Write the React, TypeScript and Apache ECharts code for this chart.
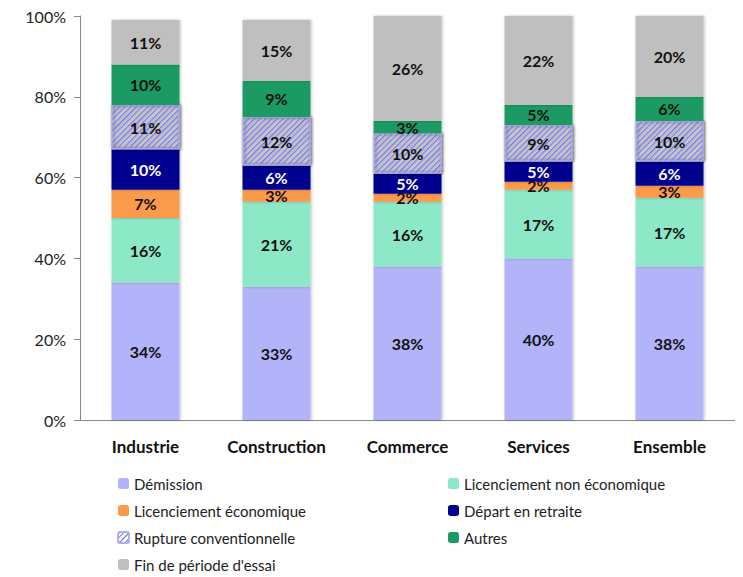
import React, { useEffect, useRef } from "react";
import * as echarts from "echarts";

const categories = ["Industrie", "Construction", "Commerce", "Services", "Ensemble"];
const demission = [34, 33, 38, 40, 38];
const licNonEco = [16, 21, 16, 17, 17];
const licEco = [7, 3, 2, 2, 3];
const retraite = [10, 6, 5, 5, 6];
const rupture = [11, 12, 10, 9, 10];
const autres = [10, 9, 3, 5, 6];
const finEssai = [11, 15, 26, 22, 20];

const FONT = "Lato";

const App: React.FC = () => {
  const chartRef = useRef<HTMLDivElement>(null);

  useEffect(() => {
    const chart = echarts.init(chartRef.current!, undefined, { renderer: "svg" });
    const mk = (name: string, data: number[], color: string, labelColor = "#111", extra: any = {}) => ({
      name,
      type: "bar",
      stack: "total",
      barWidth: 68,
      data,
      itemStyle: { color, shadowColor: "rgba(0,0,0,0.25)", shadowBlur: 3, shadowOffsetX: 1, ...extra },
      label: {
        show: true,
        formatter: "{c}%",
        color: labelColor,
        fontWeight: "bold",
        fontSize: 16,
        fontFamily: FONT,
      },
    });
    const legendBase = {
      orient: "vertical",
      height: 120,
      itemGap: 12,
      itemWidth: 11,
      itemHeight: 11,
      textStyle: { fontSize: 15, color: "#222", fontFamily: FONT },
    };
    chart.setOption({
      animation: false,
      textStyle: { fontFamily: FONT },
      grid: { left: 72, right: 0, top: 8, bottom: 157 },
      legend: [
        {
          ...legendBase, left: 104, top: 463,
          data: ["Démission", "Licenciement économique", "Rupture conventionnelle", "Fin de période d'essai"],
        },
        {
          ...legendBase, left: 435, top: 463,
          data: ["Licenciement non économique", "Départ en retraite", "Autres"],
        },
      ],
      xAxis: {
        type: "category",
        data: categories,
        axisTick: { show: false },
        axisLine: { lineStyle: { color: "#888" } },
        axisLabel: { interval: 0, fontWeight: "bold", fontSize: 17, color: "#111", margin: 18, fontFamily: FONT },
      },
      yAxis: {
        type: "value",
        min: 0,
        max: 100,
        interval: 20,
        splitLine: { show: false },
        axisLine: { show: true, lineStyle: { color: "#888" } },
        axisTick: { show: true, length: 6 },
        axisLabel: { formatter: "{value}%", fontSize: 16, color: "#222", margin: 14, fontFamily: FONT },
      },
      series: [
        mk("Démission", demission, "#b3b3fa"),
        mk("Licenciement non économique", licNonEco, "#8de8c8"),
        mk("Licenciement économique", licEco, "#fb9a4c"),
        mk("Départ en retraite", retraite, "#00008f", "#fff"),
        mk("Rupture conventionnelle", rupture, "#ffffff", "#111", {
          borderColor: "#b0b0ee",
          borderWidth: 1,
          decal: {
            symbol: "rect",
            color: "#6e6ef5",
            backgroundColor: "#ffffff",
            dashArrayX: [1, 0],
            dashArrayY: [1, 3],
            rotation: -Math.PI / 4,
          },
        }),
        mk("Autres", autres, "#1e9a64"),
        mk("Fin de période d'essai", finEssai, "#bfbfbf"),
      ],
    });
    return () => chart.dispose();
  }, []);

  return <div ref={chartRef} style={{ width: 727, height: 569 }} />;
};

export default App;
